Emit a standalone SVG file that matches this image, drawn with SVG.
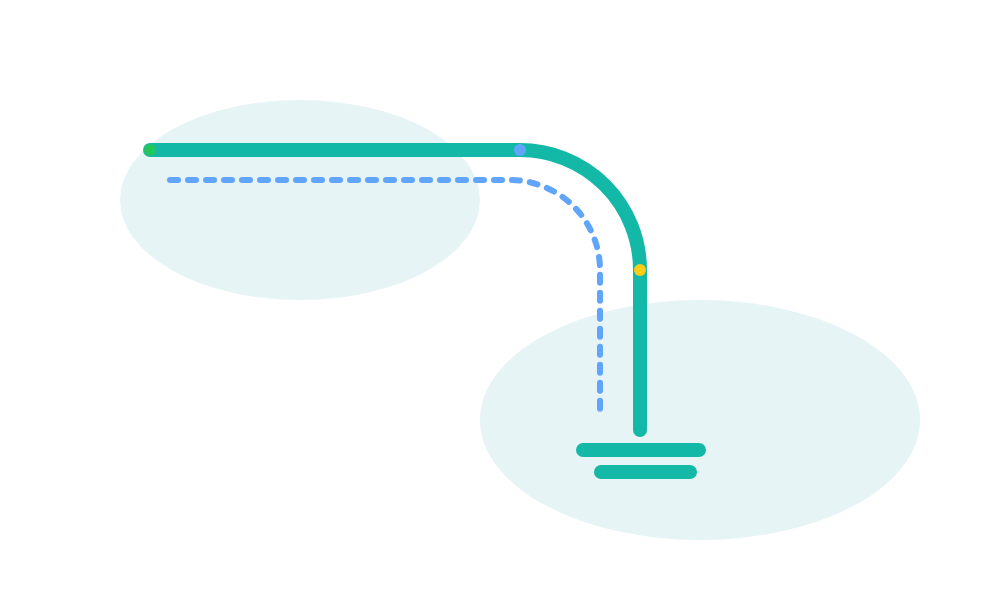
<svg xmlns="http://www.w3.org/2000/svg" width="995" height="610" viewBox="0 0 995 610">
<style>
.zone{fill:#e6f4f5}
.pipe{fill:none;stroke:#14b8a6;stroke-width:14;stroke-linecap:round}
.dash{fill:none;stroke:#60a5fa;stroke-width:6;stroke-linecap:round;stroke-dasharray:8 10}
</style>
<rect width="995" height="610" fill="#ffffff"/>
<g id="zones">
<ellipse id="zone-a" class="zone" cx="300" cy="200" rx="180" ry="100"/>
<ellipse id="zone-b" class="zone" cx="700" cy="420" rx="220" ry="120"/>
</g>
<g id="connectors">
<path class="pipe" d="M150,150 H520 A120,120 0 0 1 640,270 V430"/>
<path class="dash" d="M170,180 H510 A90,90 0 0 1 600,270 V410"/>
</g>
<g id="ground">
<line class="pipe" x1="583" y1="450" x2="699" y2="450"/>
<line class="pipe" x1="601" y1="472" x2="690" y2="472"/>
</g>
<g id="points">
<circle id="p-start" cx="150" cy="150" r="6" fill="#22c55e"/>
<circle id="p-bend" cx="520" cy="150" r="6" fill="#60a5fa"/>
<circle id="p-end" cx="640" cy="270" r="6" fill="#facc15"/>
</g>
</svg>
